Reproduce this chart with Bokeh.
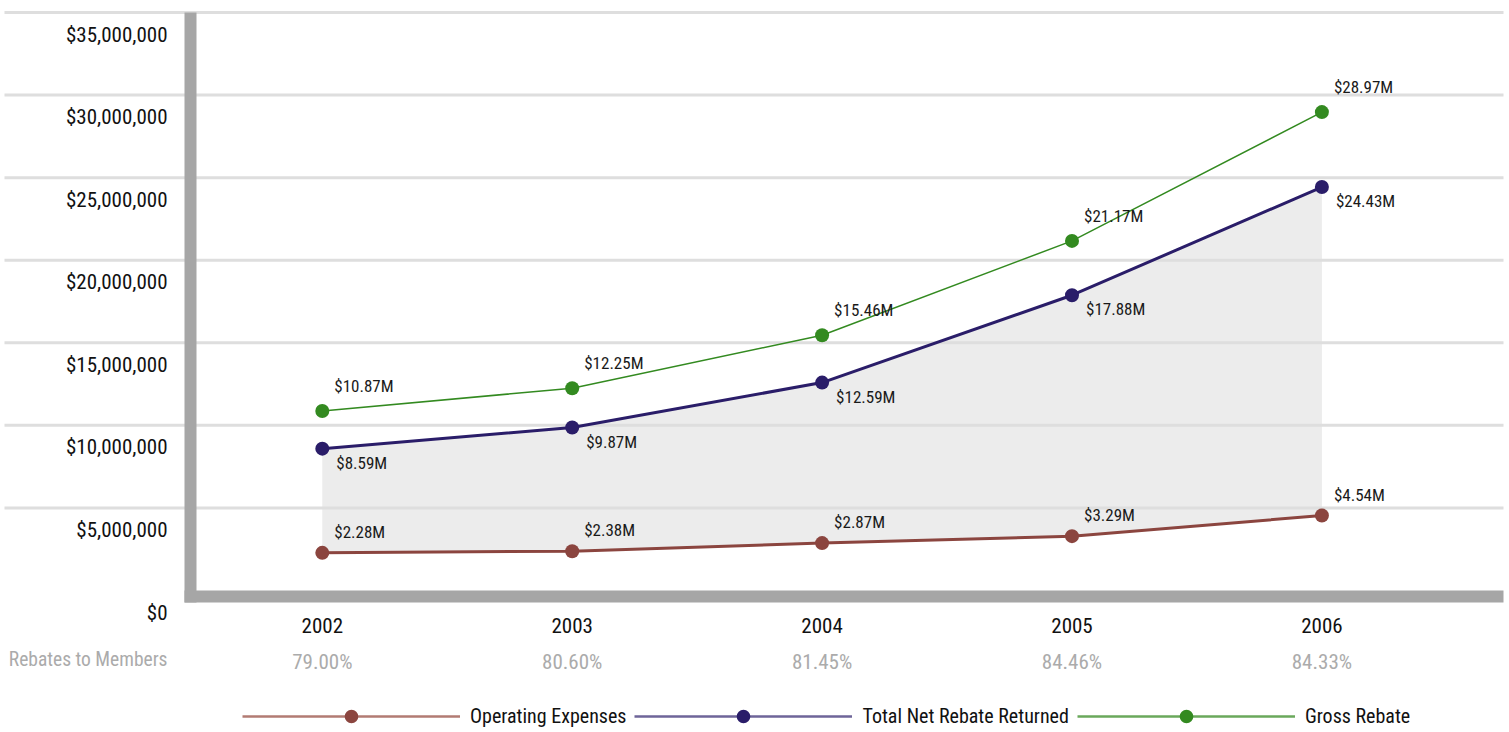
from bokeh.plotting import figure
from bokeh.models import Range1d, ColumnDataSource, Legend, LegendItem
from bokeh.core.properties import value
from bokeh.embed import file_html
from bokeh.resources import INLINE

# ---------------- data ----------------
years = [2002, 2003, 2004, 2005, 2006]
operating_expenses = [2.28, 2.38, 2.87, 3.29, 4.54]      # $M
total_net_rebate = [8.59, 9.87, 12.59, 17.88, 24.43]      # $M
gross_rebate = [10.87, 12.25, 15.46, 21.17, 28.97]        # $M
rebates_to_members = [79.00, 80.60, 81.45, 84.46, 84.33]  # %
y_ticks_m = [0, 5, 10, 15, 20, 25, 30, 35]
row_label = "Rebates to Members"
series_names = ["Operating Expenses", "Total Net Rebate Returned", "Gross Rebate"]

# ---------------- layout ----------------
W, H = 1509, 732
FONT_NAME = "Roboto Condensed"
FONT = value(FONT_NAME)
FONT_LIGHT = value("Roboto Condensed Light")
PX_PER_YEAR = 249.9
X0_PX = 321.8            # pixel of first year
PX_PER_M = 578 / 35.0    # pixels per $1M
Y0_PX = 590              # pixel of $0

X_START = years[0] - X0_PX / PX_PER_YEAR
X_END = X_START + W / PX_PER_YEAR
Y_END = Y0_PX / PX_PER_M
Y_START = Y_END - H / PX_PER_M


def px2x(px):
    return X_START + px / PX_PER_YEAR


def px2y(py):
    return Y_END - py / PX_PER_M


C_OPEX, C_NET, C_GROSS = "#8b453f", "#2a1d69", "#338a20"
L_OPEX, L_NET, L_GROSS = "#b27b73", "#6e6599", "#6aa85b"

p = figure(width=W, height=H, x_range=Range1d(X_START, X_END),
           y_range=Range1d(Y_START, Y_END), output_backend="svg",
           toolbar_location=None, min_border=0,
           x_axis_location=None, y_axis_location=None)
p.outline_line_color = None
p.grid.visible = False
p.background_fill_color = "white"

src = ColumnDataSource(dict(
    x=years, opex=operating_expenses, net=total_net_rebate, gross=gross_rebate,
    opex_lbl=[f"${v:.2f}M" for v in operating_expenses],
    net_lbl=[f"${v:.2f}M" for v in total_net_rebate],
    gross_lbl=[f"${v:.2f}M" for v in gross_rebate],
    pct_lbl=[f"{v:.2f}%" for v in rebates_to_members],
    yr_lbl=[str(y) for y in years],
    zero=[0] * len(years),
))

# shaded area between operating expenses and net rebate
p.varea(x="x", y1="opex", y2="net", source=src, fill_color="#ececec", level="image")

# gridlines (the $0 line is hidden behind the bottom border)
grid_ticks = [t for t in y_ticks_m if t > 0]
p.segment(x0=[px2x(4)] * len(grid_ticks), x1=[px2x(1503)] * len(grid_ticks),
          y0=grid_ticks, y1=grid_ticks, line_color="#dedede", line_width=3,
          level="underlay")

# frame borders (left and bottom)
p.quad(left=[px2x(184), px2x(184)], right=[px2x(196), px2x(1503)],
       top=[px2y(12), px2y(590)], bottom=[px2y(602), px2y(602)],
       fill_color="#a6a6a6", line_color=None)

# y tick labels (sit below their gridlines)
ysrc = ColumnDataSource(dict(
    y=y_ticks_m, x=[X_START] * len(y_ticks_m),
    t=[f"${int(v * 1e6):,}" for v in y_ticks_m]))
p.text(x="x", y="y", text="t", source=ysrc, x_offset=167, y_offset=22,
       text_align="right", text_baseline="middle", text_font=FONT,
       text_font_size="21px", text_color="#111111")

# year labels and percentage row
p.text(x="x", y="zero", text="yr_lbl", source=src, y_offset=35,
       text_align="center", text_baseline="middle", text_font=FONT,
       text_font_size="21px", text_color="#111111")
p.text(x="x", y="zero", text="pct_lbl", source=src, y_offset=71,
       text_align="center", text_baseline="middle", text_font=FONT,
       text_font_size="21px", text_color="#ababab")
p.text(x=[X_START], y=[0], text=[row_label], x_offset=167, y_offset=69,
       text_align="right", text_baseline="middle", text_font=FONT,
       text_font_size="19.5px", text_color="#ababab")

# series
p.line("x", "gross", source=src, line_color=C_GROSS, line_width=1.5)
p.line("x", "net", source=src, line_color=C_NET, line_width=3)
p.line("x", "opex", source=src, line_color=C_OPEX, line_width=3)
p.scatter("x", "gross", source=src, size=14, fill_color=C_GROSS, line_color=None)
p.scatter("x", "net", source=src, size=14, fill_color=C_NET, line_color=None)
p.scatter("x", "opex", source=src, size=14, fill_color=C_OPEX, line_color=None)

# data labels
lbl_kw = dict(source=src, text_align="left", text_baseline="middle",
              text_font=FONT, text_font_size="17px", text_color="#1a1a1a")
p.text(x="x", y="gross", text="gross_lbl", x_offset=12, y_offset=-25, **lbl_kw)
p.text(x="x", y="net", text="net_lbl", x_offset=14, y_offset=14, **lbl_kw)
p.text(x="x", y="opex", text="opex_lbl", x_offset=12, y_offset=-21, **lbl_kw)

# legend (renderers with a single NaN point, used only for the legend)
nan = float("nan")
items = []
for name, lc, mc in zip(series_names, [L_OPEX, L_NET, L_GROSS], [C_OPEX, C_NET, C_GROSS]):
    e = ColumnDataSource(dict(x=[nan], y=[nan]))
    lr = p.line("x", "y", source=e, line_color=lc, line_width=2.5)
    sr = p.scatter("x", "y", source=e, size=14, fill_color=mc, line_color=None)
    items.append(LegendItem(label=name, renderers=[lr, sr]))

legend = Legend(items=items, orientation="horizontal", location=(242, -1),
                glyph_width=218, glyph_height=34, label_standoff=10, spacing=8,
                padding=0, margin=0, border_line_color=None,
                background_fill_alpha=0, label_text_font=FONT_NAME,
                label_text_font_size="20px", label_text_color="#111111")
p.add_layout(legend)

open("out.html", "w").write(file_html(p, INLINE))
